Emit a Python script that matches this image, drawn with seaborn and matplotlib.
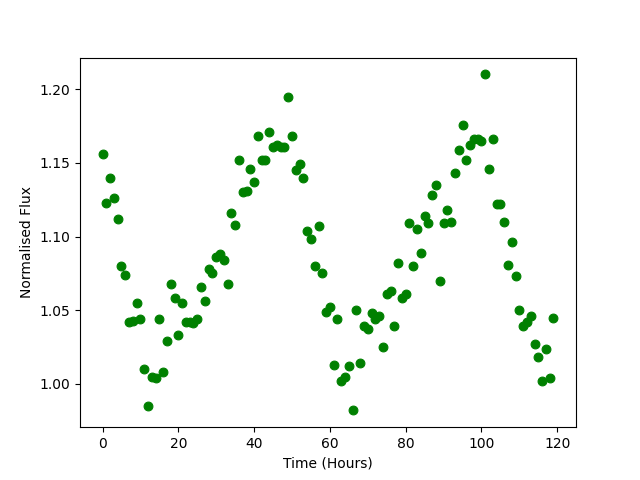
import numpy as np
import pandas as pd
import matplotlib
matplotlib.use("Agg")
import matplotlib.pyplot as plt
import seaborn as sns

# time in hours, one reading per hour
hours = list(range(120))
flux = [1.156, 1.123, 1.140, 1.126, 1.112, 1.080, 1.074, 1.042, 1.043, 1.055,
        1.044, 1.010, 0.985, 1.005, 1.004, 1.044, 1.008, 1.029, 1.068, 1.058,
        1.033, 1.055, 1.042, 1.042, 1.041, 1.044, 1.066, 1.056, 1.078, 1.075,
        1.086, 1.088, 1.084, 1.068, 1.116, 1.108, 1.152, 1.130, 1.131, 1.146,
        1.137, 1.168, 1.152, 1.152, 1.171, 1.161, 1.162, 1.161, 1.161, 1.195,
        1.168, 1.145, 1.149, 1.140, 1.104, 1.098, 1.080, 1.107, 1.075, 1.049,
        1.052, 1.013, 1.044, 1.002, 1.005, 1.012, 0.982, 1.050, 1.014, 1.039,
        1.037, 1.048, 1.044, 1.046, 1.025, 1.061, 1.063, 1.039, 1.082, 1.058,
        1.061, 1.109, 1.080, 1.105, 1.089, 1.114, 1.109, 1.128, 1.135, 1.070,
        1.109, 1.118, 1.110, 1.143, 1.159, 1.176, 1.152, 1.162, 1.166, 1.166,
        1.165, 1.210, 1.146, 1.166, 1.122, 1.122, 1.110, 1.081, 1.096, 1.073,
        1.050, 1.039, 1.042, 1.046, 1.027, 1.018, 1.002, 1.024, 1.004, 1.045]

df = pd.DataFrame({"hours": hours, "flux": flux})

fig, ax = plt.subplots(figsize=(6.4, 4.8), dpi=100)
sns.scatterplot(data=df, x="hours", y="flux", color="green", edgecolor="green",
                s=40, linewidth=0.8, ax=ax)
ax.set_xlabel("Time (Hours)")
ax.set_ylabel("Normalised Flux")
plt.savefig("out.png", dpi=100)
